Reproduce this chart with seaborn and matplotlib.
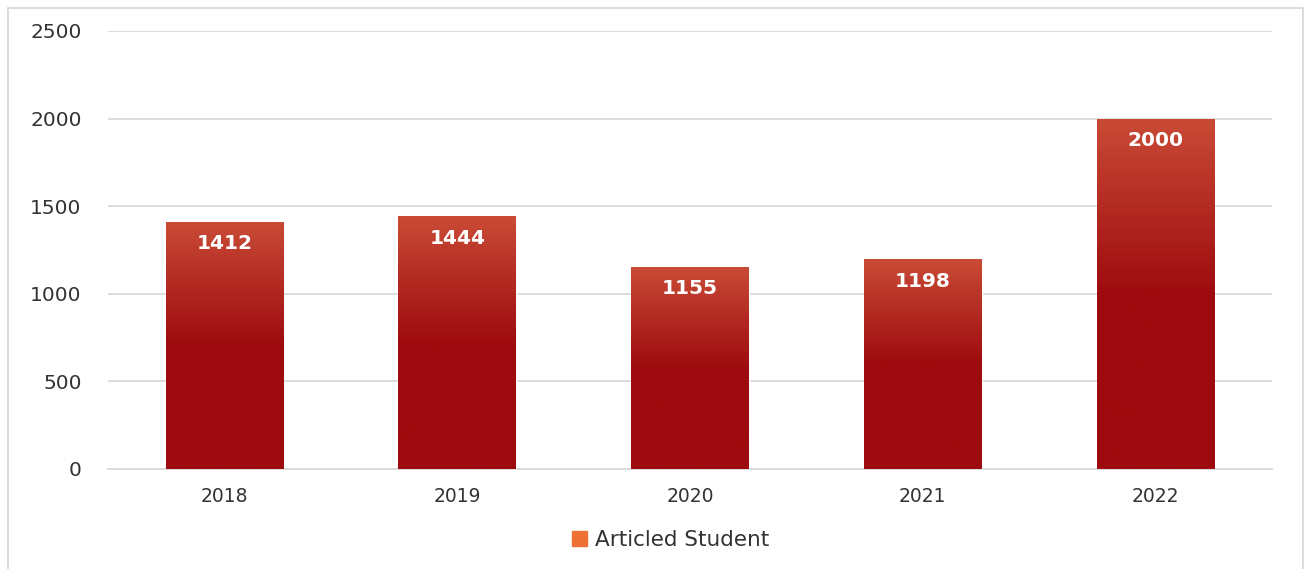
import matplotlib
matplotlib.use("Agg")
import matplotlib.pyplot as plt
import matplotlib.patches as mpatches
from matplotlib.colors import LinearSegmentedColormap
import numpy as np
import pandas as pd
import seaborn as sns

years = ["2018", "2019", "2020", "2021", "2022"]
students = [1412, 1444, 1155, 1198, 2000]
series_name = "Articled Student"
yticks = [0, 500, 1000, 1500, 2000, 2500]

sns.set_theme(style="white")
plt.rcParams["font.family"] = ["DejaVu Sans"]

W, H = 1307, 569
fig = plt.figure(figsize=(W / 100, H / 100), dpi=100)
ax = fig.add_axes([108 / W, 1 - 469 / H, (1272 - 108) / W, (469 - 31) / H])

df = pd.DataFrame({"year": years, "value": students})
sns.barplot(data=df, x="year", y="value", ax=ax, color="#9E0B0F", width=0.506,
            saturation=1, zorder=3)

ax.set_ylim(0, 2500)
ax.set_xlim(-0.5, 4.5)
ax.set_yticks(yticks)
ax.grid(axis="y", color="#D9D9D9", linewidth=1.3, zorder=0)
ax.set_axisbelow(True)
for s in ["top", "right", "left"]:
    ax.spines[s].set_visible(False)
ax.spines["bottom"].set_color("#D9D9D9")
ax.spines["bottom"].set_linewidth(1.3)
ax.set_xlabel("")
ax.set_ylabel("")
ax.tick_params(axis="x", length=0, labelsize=13.5, colors="#333333", pad=13)
ax.tick_params(axis="y", length=0, labelsize=14.5, colors="#333333", pad=19)

# gradient overlay on bars
cmap = LinearSegmentedColormap.from_list("g2", ["#9E0B0F", "#C94B36"])
for p in list(ax.patches):
    x0, y0 = p.get_x(), p.get_y()
    w, h = p.get_width(), p.get_height()
    grad = np.linspace(0, 1, 256).reshape(-1, 1)
    vals = np.clip((grad - 0.5) / 0.5, 0, 1)
    im = ax.imshow(vals, extent=[x0, x0 + w, y0, y0 + h], origin="lower",
                   aspect="auto", cmap=cmap, vmin=0, vmax=1, zorder=4)
    im.set_clip_path(p)

for i, v in enumerate(students):
    ax.annotate(f"{v}", xy=(i, v), xytext=(0, -16), textcoords="offset points",
                ha="center", va="center", color="white",
                fontsize=14.5, fontweight="bold", zorder=6)

ax.set_xlim(-0.5, 4.5)
ax.set_ylim(0, 2500)

handle = mpatches.Patch(color="#EE7033", label=series_name)
fig.legend(handles=[handle], loc="center", bbox_to_anchor=(0.513, 1 - 540 / H),
           frameon=False, fontsize=15.5, handlelength=0.7, handleheight=0.7,
           handletextpad=0.35, labelcolor="#333333")

# outer border
fig.patches.append(mpatches.Rectangle((8 / W, -0.01), (1303 - 8) / W, 1 - 8 / H + 0.01,
                                      transform=fig.transFigure, fill=False,
                                      edgecolor="#D9D9D9", linewidth=1.3))

fig.savefig("out.png", dpi=100)
